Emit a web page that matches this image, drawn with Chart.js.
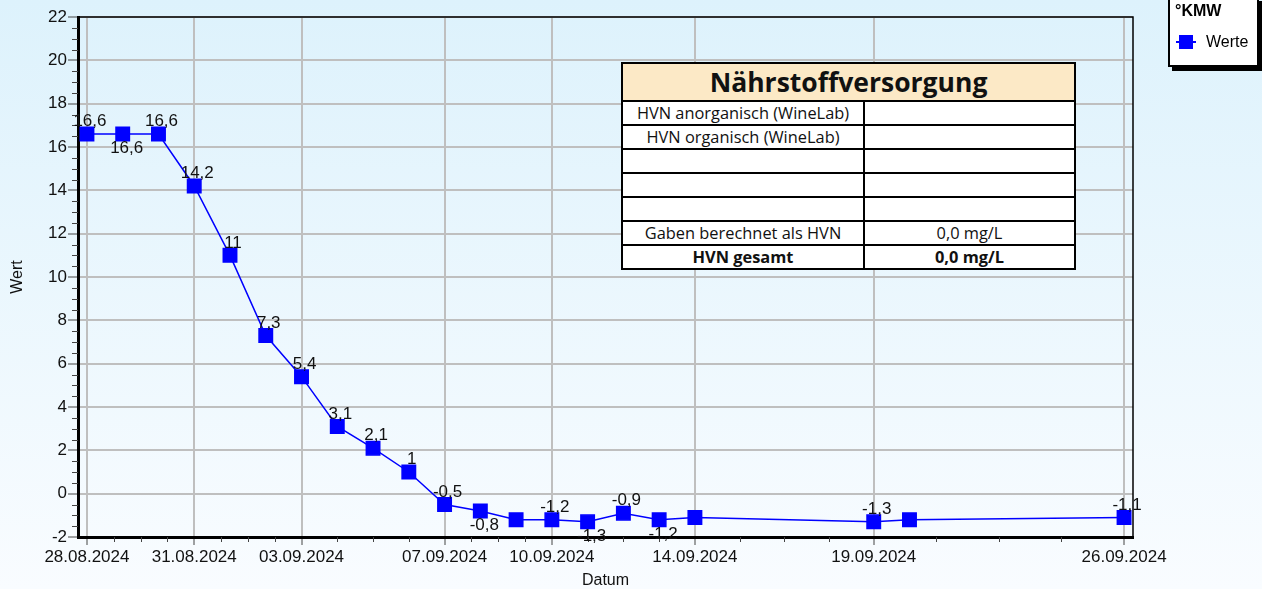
<!DOCTYPE html>
<html lang="de">
<head>
<meta charset="utf-8">
<title>Werte °KMW</title>
<script src="https://cdn.jsdelivr.net/npm/chart.js@4"></script>
<style>
  html, body { margin: 0; padding: 0; }
  body { width: 1262px; height: 589px; overflow: hidden; position: relative;
         font-family: "Liberation Sans", Arial, sans-serif; }
  #wrap { position: absolute; left: 0; top: 0; width: 1262px; height: 589px; }
  #info { position: absolute; left: 621px; top: 62px; width: 455px; border-collapse: collapse;
          background: #fff; font-family: "Open Sans", sans-serif; font-size: 16.4px; color: #111; }
  #info td, #info th { border: 2px solid #000; padding: 0; text-align: center; height: 22px; line-height: 20px; }
  #info th { background: #fce9c6; font-size: 26.5px; font-weight: bold; height: 36px; line-height: 34px; }
  #info td.l { width: 240px; }
  #info tr.tot td { font-weight: bold; }
  #legend { position: absolute; left: 1168px; top: -3px; width: 87px; height: 66px; background: #fff;
            border: 2px solid #000; box-shadow: 4px 4px 0 #000; font-size: 16px; }
  #legend .t { position: absolute; left: 5px; top: 3px; font-weight: bold; }
  #legend .m { position: absolute; left: 9px; top: 36px; width: 14px; height: 14px; background: #0000ff; }
  #legend .ml { position: absolute; left: 6px; top: 42px; width: 20px; height: 2px; background: #0000ff; }
  #legend .n { position: absolute; left: 36px; top: 34px; }
</style>
</head>
<body>
<div id="wrap"><canvas id="kmwChart" width="1262" height="589"></canvas></div>

<table id="info">
  <tr><th colspan="2">Nährstoffversorgung</th></tr>
  <tr><td class="l">HVN anorganisch (WineLab)</td><td></td></tr>
  <tr><td class="l">HVN organisch (WineLab)</td><td></td></tr>
  <tr><td class="l"></td><td></td></tr>
  <tr><td class="l"></td><td></td></tr>
  <tr><td class="l"></td><td></td></tr>
  <tr><td class="l">Gaben berechnet als HVN</td><td>0,0 mg/L</td></tr>
  <tr class="tot"><td class="l">HVN gesamt</td><td>0,0 mg/L</td></tr>
</table>

<div id="legend">
  <span class="t">°KMW</span>
  <span class="ml"></span><span class="m"></span>
  <span class="n">Werte</span>
</div>

<script>
// --- data ---
const dates = ['28.08.2024', '29.08.2024', '30.08.2024', '31.08.2024', '01.09.2024', '02.09.2024',
               '03.09.2024', '04.09.2024', '05.09.2024', '06.09.2024', '07.09.2024', '08.09.2024',
               '09.09.2024', '10.09.2024', '11.09.2024', '12.09.2024', '13.09.2024', '14.09.2024',
               '19.09.2024', '20.09.2024', '26.09.2024'];
const werte = [16.6, 16.6, 16.6, 14.2, 11, 7.3, 5.4, 3.1, 2.1, 1, -0.5, -0.8,
               -1.2, -1.2, -1.3, -0.9, -1.2, -1.1, -1.3, -1.2, -1.1];
// where the value label sits: 'a' above, 'b' below, '' no label
const labelPlacement = ['a', 'b', 'a', 'a', 'a', 'a', 'a', 'a', 'a', 'a', 'a', 'b',
                        '', 'a', 'b', 'a', 'b', '', 'a', '', 'a'];
const xTickDates = ['28.08.2024', '31.08.2024', '03.09.2024', '07.09.2024', '10.09.2024',
                    '14.09.2024', '19.09.2024', '26.09.2024'];

// dd.mm.yyyy <-> day number
function toDay(s) {
    const p = s.split('.');
    return Date.UTC(+p[2], +p[1] - 1, +p[0]) / 86400000;
}
function fromDay(d) {
    const dt = new Date(d * 86400000);
    const pad = n => String(n).padStart(2, '0');
    return pad(dt.getUTCDate()) + '.' + pad(dt.getUTCMonth() + 1) + '.' + dt.getUTCFullYear();
}

const points = dates.map((d, i) => ({ x: toDay(d), y: werte[i] }));
const majorDays = xTickDates.map(toDay);
const majorSet = new Set(majorDays);
// 4 sub intervals between the labelled dates
const allXTicks = [];
majorDays.forEach((d, i) => {
    allXTicks.push(d);
    if (i < majorDays.length - 1) {
        const step = (majorDays[i + 1] - d) / 4;
        for (let k = 1; k < 4; k++) allXTicks.push(d + k * step);
    }
});

const GRID = '#bfbfbf';
const TICK = '#444';
const isMajorY = v => v % 2 === 0;

const background = {
    id: 'background',
    beforeDraw(chart) {
        const ctx = chart.ctx;
        const g = ctx.createLinearGradient(0, 0, 0, chart.height);
        g.addColorStop(0, '#ddf2fc');
        g.addColorStop(1, '#f9fcff');
        ctx.save();
        ctx.fillStyle = g;
        ctx.fillRect(0, 0, chart.width, chart.height);
        ctx.restore();
    }
};

const frameAndLabels = {
    id: 'frameAndLabels',
    afterDatasetsDraw(chart) {
        const ctx = chart.ctx;
        const a = chart.chartArea;
        const xs = chart.scales.x, ys = chart.scales.y;
        ctx.save();
        // thin top + right frame
        ctx.strokeStyle = '#000';
        ctx.lineWidth = 1.5;
        ctx.beginPath();
        ctx.moveTo(a.left, a.top);
        ctx.lineTo(a.right, a.top);
        ctx.lineTo(a.right, a.bottom);
        ctx.stroke();

        // short minor ticks
        ctx.strokeStyle = TICK;
        ctx.lineWidth = 1;
        ctx.beginPath();
        ys.ticks.forEach(t => {
            if (isMajorY(t.value)) return;
            const y = Math.round(ys.getPixelForValue(t.value)) + 0.5;
            ctx.moveTo(a.left - 6, y);
            ctx.lineTo(a.left, y);
        });
        xs.ticks.forEach(t => {
            if (majorSet.has(t.value)) return;
            const x = Math.round(xs.getPixelForValue(t.value)) + 0.5;
            ctx.moveTo(x, a.bottom);
            ctx.lineTo(x, a.bottom + 5);
        });
        ctx.stroke();

        // value labels
        const meta = chart.getDatasetMeta(0);
        ctx.fillStyle = '#111';
        ctx.font = '17px "Liberation Sans", Arial, sans-serif';
        ctx.textAlign = 'center';
        meta.data.forEach((pt, i) => {
            const pos = labelPlacement[i];
            if (!pos) return;
            const txt = String(werte[i]).replace('.', ',');
            if (pos === 'a') {
                ctx.textBaseline = 'bottom';
                ctx.fillText(txt, pt.x + 3, pt.y - 4);
            } else {
                ctx.textBaseline = 'top';
                ctx.fillText(txt, pt.x + 4, pt.y + 6);
            }
        });
        ctx.restore();
    }
};

Chart.defaults.font.family = '"Liberation Sans", Arial, sans-serif';
Chart.defaults.font.size = 17;
Chart.defaults.color = '#111';

new Chart(document.getElementById('kmwChart'), {
    type: 'line',
    data: {
        datasets: [{
            label: 'Werte',
            data: points,
            borderColor: '#0000ff',
            backgroundColor: '#0000ff',
            borderWidth: 1.5,
            pointStyle: 'rect',
            pointRadius: 9.5,
            pointHoverRadius: 9.5,
            tension: 0
        }]
    },
    options: {
        responsive: false,
        animation: false,
        events: [],
        layout: { padding: { left: 0, top: 17, right: 129, bottom: 0 } },
        plugins: {
            legend: { display: false },
            tooltip: { enabled: false }
        },
        scales: {
            x: {
                type: 'linear',
                min: toDay(dates[0]) - 0.25,
                max: toDay(dates[dates.length - 1]) + 0.25,
                afterBuildTicks(scale) {
                    scale.ticks = allXTicks.map(v => ({ value: v }));
                },
                afterFit(scale) { scale.height = 52; },
                ticks: {
                    autoSkip: false,
                    maxRotation: 0,
                    padding: 2,
                    callback: v => majorSet.has(v) ? fromDay(v) : ''
                },
                grid: {
                    color: c => (c.tick && majorSet.has(c.tick.value)) ? GRID : 'rgba(0,0,0,0)',
                    lineWidth: 2,
                    tickColor: c => (c.tick && majorSet.has(c.tick.value)) ? TICK : 'rgba(0,0,0,0)',
                    tickLength: 8,
                    tickWidth: 1
                },
                border: { display: true, color: '#000', width: 3 },
                title: {
                    display: true,
                    text: 'Datum',
                    font: { size: 16, lineHeight: 1 },
                    padding: { top: 0, bottom: 0 }
                }
            },
            y: {
                min: -2,
                max: 22,
                afterBuildTicks(scale) {
                    const t = [];
                    for (let v = -2; v <= 22.001; v += 0.5) t.push({ value: Math.round(v * 2) / 2 });
                    scale.ticks = t;
                },
                afterFit(scale) { scale.width = 78; },
                ticks: {
                    autoSkip: false,
                    padding: 1,
                    callback: v => isMajorY(v) ? String(v) : ''
                },
                grid: {
                    color: c => (c.tick && isMajorY(c.tick.value)) ? GRID : 'rgba(0,0,0,0)',
                    lineWidth: 2,
                    tickColor: c => (c.tick && isMajorY(c.tick.value)) ? TICK : 'rgba(0,0,0,0)',
                    tickLength: 10,
                    tickWidth: 1
                },
                border: { display: true, color: '#000', width: 3 },
                title: {
                    display: true,
                    text: 'Wert',
                    font: { size: 16 },
                    padding: { top: 8, bottom: 0 }
                }
            }
        }
    },
    plugins: [background, frameAndLabels]
});
</script>
</body>
</html>
